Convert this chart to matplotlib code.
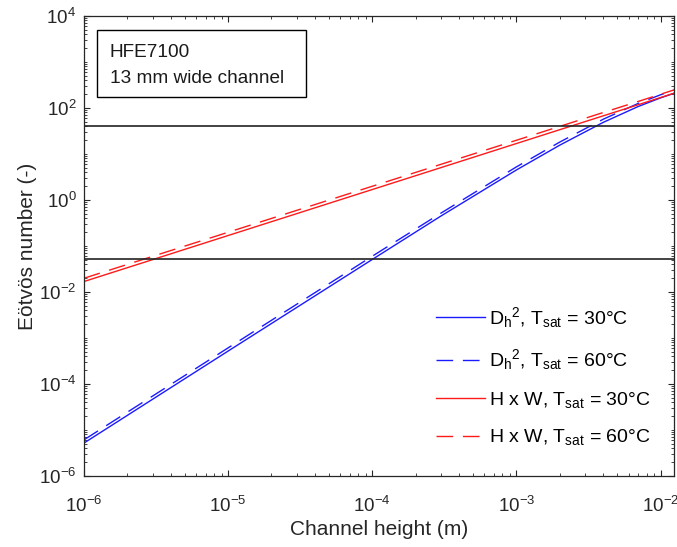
import numpy as np
import matplotlib
matplotlib.use("Agg")
import matplotlib.pyplot as plt
from matplotlib.ticker import LogLocator, NullFormatter
from matplotlib.patches import Rectangle

plt.rcParams['font.family'] = ['Liberation Sans', 'DejaVu Sans']
plt.rcParams['mathtext.fontset'] = 'custom'
plt.rcParams['mathtext.rm'] = 'Liberation Sans'
plt.rcParams['mathtext.it'] = 'Liberation Sans:italic'
plt.rcParams['mathtext.bf'] = 'Liberation Sans:bold'

# ---- data ----
channel_height = [1e-6, 1e-5, 1e-4, 3e-4, 1e-3, 2e-3, 4e-3, 7e-3, 1e-2, 1.24e-2]
eo_dh2_30 = [5.2e-6, 5.2e-4, 0.051, 0.45, 4.5, 15.6, 48.7, 108, 166, 209]
eo_dh2_60 = [6.1e-6, 6.1e-4, 0.060, 0.52, 5.25, 18.2, 57, 126, 194, 245]
eo_hw_30 = [0.0169, 0.169, 1.69, 5.07, 16.9, 33.8, 67.6, 118, 169, 210]
eo_hw_60 = [0.0199, 0.199, 1.99, 5.98, 19.9, 39.9, 79.8, 139, 199, 248]
threshold_upper = 40
threshold_lower = 0.052

labels = [r'D$_{\mathrm{h}}$$^{2}$, T$_{\mathrm{sat}}$ = 30°C',
          r'D$_{\mathrm{h}}$$^{2}$, T$_{\mathrm{sat}}$ = 60°C',
          r'H x W, T$_{\mathrm{sat}}$ = 30°C',
          r'H x W, T$_{\mathrm{sat}}$ = 60°C']
x_ticks = [1e-6, 1e-5, 1e-4, 1e-3, 1e-2]
y_ticks = [1e-6, 1e-4, 1e-2, 1e0, 1e2, 1e4]
x_limits = [1e-6, 1.24e-2]
y_limits = [1e-6, 1e4]
info_lines = ["HFE7100", "13 mm wide channel"]

fig = plt.figure(figsize=(6.77, 5.47), dpi=100)
ax = fig.add_axes([0.124, 0.1298, 0.8716, 0.8409])

dash = (12, 7)
ax.plot(channel_height, eo_dh2_30, color='#1a1aff', lw=1.0, label=labels[0])
ax.plot(channel_height, eo_dh2_60, color='#1a1aff', lw=1.0, dashes=dash, label=labels[1])
ax.plot(channel_height, eo_hw_30, color='#ff1a1a', lw=1.0, label=labels[2])
ax.plot(channel_height, eo_hw_60, color='#ff1a1a', lw=1.0, dashes=dash, label=labels[3])
ax.axhline(threshold_upper, color='#222222', lw=1.2)
ax.axhline(threshold_lower, color='#222222', lw=1.2)

ax.set_xscale('log')
ax.set_yscale('log')
ax.set_xlim(x_limits)
ax.set_ylim(y_limits)
ax.set_xticks(x_ticks)
ax.set_yticks(y_ticks)
ax.xaxis.set_minor_locator(LogLocator(base=10, subs=np.arange(1, 10), numticks=100))
ax.yaxis.set_minor_locator(LogLocator(base=10, subs=np.arange(1, 10), numticks=100))
ax.xaxis.set_minor_formatter(NullFormatter())
ax.yaxis.set_minor_formatter(NullFormatter())

ax.tick_params(which='both', direction='in', top=True, right=True, colors='#262626',
               labelsize=13.5)
ax.tick_params(which='major', length=4.5, width=0.8)
ax.tick_params(which='minor', length=2.5, width=0.6)
ax.tick_params(axis='x', which='major', pad=14)
ax.tick_params(axis='y', which='major', pad=5.5)
for s in ax.spines.values():
    s.set_color('#262626')
    s.set_linewidth(0.9)

ax.set_xlabel('Channel height (m)', fontsize=15, color='#262626', labelpad=3)
ax.set_ylabel('Eötvös number (-)', fontsize=15, color='#262626', labelpad=1.5)

ax.add_patch(Rectangle((0.022, 0.824), 0.354, 0.1456, transform=ax.transAxes,
                       fc='white', ec='black', lw=1.0, zorder=5))
ax.text(0.044, 0.911, info_lines[0], transform=ax.transAxes, fontsize=13.7,
        va='baseline', ha='left', zorder=6, color='#1a1a1a')
ax.text(0.044, 0.854, info_lines[1], transform=ax.transAxes, fontsize=13.7,
        va='baseline', ha='left', zorder=6, color='#1a1a1a')

leg = ax.legend(loc='lower right', bbox_to_anchor=(0.99, 0.024), frameon=False,
                fontsize=14, handlelength=2.5, handletextpad=0.2, labelspacing=0.9)

fig.savefig('out.png', dpi=100)
